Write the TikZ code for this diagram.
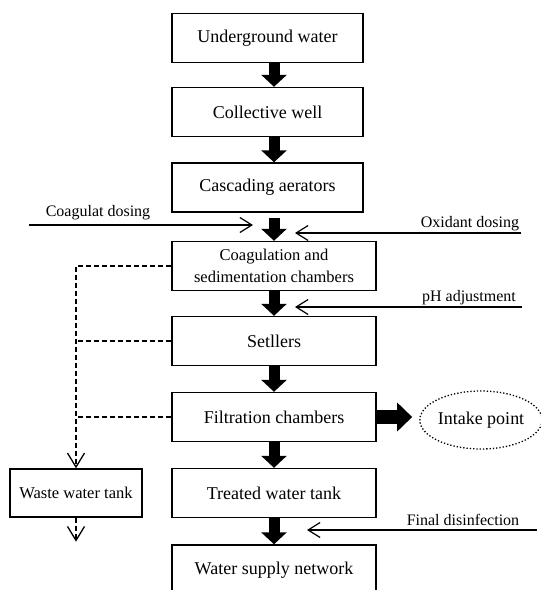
\documentclass[tikz,border=0pt]{standalone}
\usepackage{fontspec}
\setmainfont{Liberation Serif}
\usetikzlibrary{arrows.meta,shapes.geometric,positioning}

\tikzset{
  stage/.style={draw, line width=1.4pt, minimum width=204pt, minimum height=49pt,
    inner sep=0pt, align=center, font=\fontsize{18}{22}\selectfont},
  flow/.style={line width=11pt, -{Triangle[width=25pt,length=12pt]}},
  dose/.style={line width=1.2pt, -{Straight Barb[length=12pt,width=15pt]}},
  drain/.style={dash pattern=on 5pt off 3pt, line width=1.3pt},
  sidetext/.style={inner sep=0pt, font=\fontsize{16}{19}\selectfont},
}

\begin{document}
\begin{tikzpicture}[x=1pt,y=-1pt]
\useasboundingbox (0,0) rectangle (541,590);
% treatment line
\node[stage, minimum width=191pt] (ug) at (267.5,38) {Underground water};
\node[stage, minimum width=191pt] (well) at (267.5,112) {Collective well};
\node[stage, minimum width=191pt] (aer) at (267.5,187.5) {Cascading aerators};
\node[stage, font=\fontsize{16.5}{22}\selectfont] (coag) at (274,266) {Coagulation and\\sedimentation chambers};
\node[stage] (set) at (274,341) {Setllers};
\node[stage] (fil) at (274,417) {Filtration chambers};
\node[stage] (tank) at (274,493) {Treated water tank};
\node[stage, minimum height=50pt] (net) at (274,570) {Water supply network};

\draw[flow] (ug.south -| net.north) -- (well.north -| net.north);
\draw[flow] (well.south -| net.north) -- (aer.north -| net.north);
\draw[flow, shorten <=5pt] (aer.south -| net.north) -- (coag.north);
\foreach \a/\b in {coag/set, set/fil, fil/tank, tank/net}
  \draw[flow] (\a.south) -- (\b.north);

% intake
\node[ellipse, draw, dotted, line width=1.3pt, minimum width=118pt, minimum height=58pt,
  inner sep=0pt, font=\fontsize{18}{22}\selectfont] (intake) at (481,420) {Intake point};
\coordinate (intakein) at ([xshift=-7pt]intake.west);
\draw[line width=14pt, -{Triangle[width=28pt,length=15pt]}] (fil.east) -- (intakein |- fil.east);

% dosing
\node[sidetext] (cdl) at (98,213) {Coagulat dosing};
\coordinate (cdin) at (29,225);
\coordinate (cdout) at (253,225);
\draw[dose] (cdin) -- (cdout);
\node[sidetext] (oxl) at (470,224) {Oxidant dosing};
\coordinate (oxin) at (521,233);
\coordinate (oxout) at (295,233);
\draw[dose] (oxin) -- (oxout);
\node[sidetext] (phl) at (469,298) {pH adjustment};
\coordinate (phin) at (522,307);
\coordinate (phout) at (295,307);
\draw[dose] (phin) -- (phout);
\node[sidetext] (fdl) at (463,520) {Final disinfection};
\coordinate (fdin) at (537,530);
\coordinate (fdout) at (307,530);
\draw[dose] (fdin) -- (fdout);

% sludge
\node[stage, minimum width=132pt, minimum height=48pt, font=\fontsize{16.5}{20}\selectfont] (waste) at (76,493) {Waste water tank};
\draw[drain, -{Straight Barb[length=14pt,width=17pt]}] (coag.west) -| (waste.north);
\draw[drain] (set.west) -- (set.west -| waste.north);
\draw[drain] (fil.west) -- (fil.west -| waste.north);
\coordinate (wasteout) at ([yshift=-24pt]waste.south);
\draw[drain, -{Straight Barb[length=14pt,width=17pt]}] (waste.south) -- (wasteout);
\end{tikzpicture}
\end{document}
